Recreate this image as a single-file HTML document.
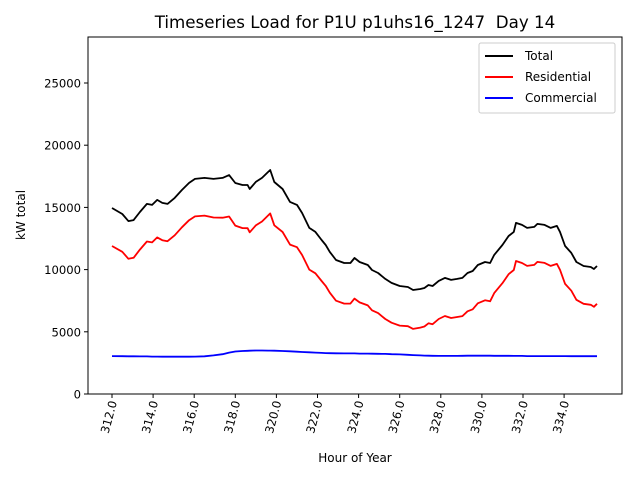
<!DOCTYPE html>
<html><head><meta charset="utf-8"><style>
body{margin:0;background:#fff;}
svg text{font-family:"DejaVu Sans","Liberation Sans",sans-serif;}
</style></head><body>
<svg id="chart" width="640" height="480" xmlns="http://www.w3.org/2000/svg">
<rect width="640" height="480" fill="#fff"/>
<text x="355" y="28" font-size="16.7" text-anchor="middle" xml:space="preserve" style="white-space:pre">Timeseries Load for P1U p1uhs16_1247  Day 14</text>
<g id="plot"></g>
<rect x="88" y="37" width="534" height="357" fill="none" stroke="#000" stroke-width="1"/>
<text x="355" y="462" font-size="12" text-anchor="middle">Hour of Year</text>
<text transform="translate(25,215) rotate(-90)" font-size="12" text-anchor="middle">kW total</text>
<g>
<rect x="479" y="43" width="136" height="70" fill="#fff" stroke="#ccc" rx="2"/>
<line x1="485" y1="56" x2="513" y2="56" stroke="#000" stroke-width="2"/>
<text x="525" y="60" font-size="12">Total</text>
<line x1="485" y1="77" x2="513" y2="77" stroke="#f00" stroke-width="2"/>
<text x="525" y="81" font-size="12">Residential</text>
<line x1="485" y1="98" x2="513" y2="98" stroke="#00f" stroke-width="2"/>
<text x="525" y="102" font-size="12">Commercial</text>
</g>
</svg>
<script>
const hours=[312.0,312.5,312.8,313.05,313.36,313.7,313.95,314.2,314.45,314.7,315.05,315.4,315.75,316.04,316.5,316.94,317.38,317.7,318.0,318.35,318.6,318.7,319.0,319.3,319.6,319.7,319.9,320.3,320.66,321.0,321.25,321.6,321.9,322.2,322.4,322.6,322.9,323.3,323.6,323.8,324.05,324.45,324.65,324.95,325.3,325.6,326.0,326.4,326.65,327.0,327.2,327.4,327.6,327.9,328.2,328.5,328.8,329.05,329.3,329.55,329.8,330.15,330.4,330.6,331.0,331.3,331.55,331.66,331.95,332.2,332.55,332.7,333.05,333.35,333.65,333.8,334.05,334.35,334.6,334.95,335.3,335.45,335.6];
const total=[14950,14470,13900,13980,14630,15280,15200,15600,15360,15280,15760,16400,16970,17290,17370,17290,17370,17600,16960,16800,16800,16480,17050,17370,17850,18010,17040,16480,15440,15200,14550,13350,13030,12380,11980,11420,10770,10530,10530,10930,10610,10370,9970,9730,9250,8930,8680,8600,8360,8440,8520,8760,8680,9090,9330,9170,9250,9330,9730,9890,10370,10610,10530,11180,11980,12700,13030,13750,13590,13350,13430,13670,13590,13350,13510,13030,11900,11340,10610,10290,10210,10050,10290];
const residential=[11900,11430,10870,10950,11610,12260,12190,12590,12360,12280,12760,13400,13970,14280,14340,14190,14170,14270,13540,13340,13330,13000,13550,13870,14360,14520,13560,13020,12010,11800,11170,10000,9700,9080,8690,8140,7500,7270,7270,7670,7360,7120,6730,6500,6030,5730,5500,5450,5230,5340,5430,5680,5610,6030,6270,6110,6190,6260,6650,6810,7290,7530,7450,8110,8910,9630,9970,10690,10530,10300,10380,10620,10540,10300,10460,9980,8850,8300,7570,7250,7170,7010,7250];
const commercial=[3050,3040,3030,3030,3020,3020,3010,3010,3000,3000,3000,3000,3000,3010,3030,3100,3200,3330,3420,3460,3470,3480,3500,3500,3490,3490,3480,3460,3430,3400,3380,3350,3330,3300,3290,3280,3270,3260,3260,3260,3250,3250,3240,3230,3220,3200,3180,3150,3130,3100,3090,3080,3070,3060,3060,3060,3060,3070,3080,3080,3080,3080,3080,3070,3070,3070,3060,3060,3060,3050,3050,3050,3050,3050,3050,3050,3050,3040,3040,3040,3040,3040,3040];
const xTicks=[312,314,316,318,320,322,324,326,328,330,332,334];
const yTicks=[0,5000,10000,15000,20000,25000];
const X=h=>112+(h-312)*20.55;
const Y=v=>394-v*62.2/5000;
const NS="http://www.w3.org/2000/svg";
const svg=document.getElementById('chart');
const plot=document.getElementById('plot');
function mk(t,a,p){const e=document.createElementNS(NS,t);for(const k in a)e.setAttribute(k,a[k]);(p||svg).appendChild(e);return e;}
function series(vals,color,name){
  const d=vals.map((v,i)=>(i?'L':'M')+X(hours[i]).toFixed(1)+','+Y(v).toFixed(1)).join('');
  const p=mk('path',{d:d,fill:'none',stroke:color,'stroke-width':1.8,'stroke-linejoin':'round'},plot);
  
  
}
series(total,'#000','total-line');
series(residential,'#f00','residential-line');
series(commercial,'#00f','commercial-line');
xTicks.forEach(t=>{
  const x=X(t);
  const l=mk('line',{x1:x,y1:394,x2:x,y2:398,stroke:'#000'});
  
  
  const tx=mk('text',{transform:`translate(${x+5},${402}) rotate(-75)`,'font-size':11.6,'text-anchor':'end'});
  tx.textContent=t.toFixed(1);
  
  
});
yTicks.forEach(t=>{
  const y=Y(t);
  const l=mk('line',{x1:84,y1:y,x2:88,y2:y,stroke:'#000'});
  
  
  const tx=mk('text',{x:81,y:y+4.5,'font-size':11.6,'text-anchor':'end'});
  tx.textContent=t;
  
  
});
</script>
</body></html>
